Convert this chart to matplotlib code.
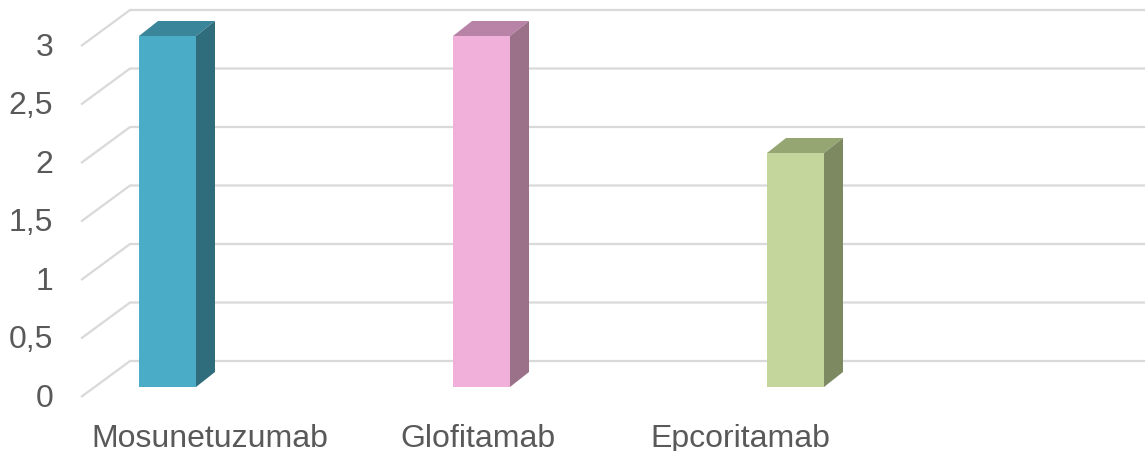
"""Excel-style 3D column chart: bispecific antibodies."""

import matplotlib

matplotlib.use("Agg")
import matplotlib.pyplot as plt
from matplotlib.patches import Polygon

categories = ["Mosunetuzumab", "Glofitamab", "Epcoritamab"]
values = [3, 3, 2]
y_ticks = [0, 0.5, 1, 1.5, 2, 2.5, 3]
tick_labels = ["0", "0,5", "1", "1,5", "2", "2,5", "3"]

front_colors = ["#4aacc6", "#f1b0da", "#c4d69b"]
top_colors = ["#3a8599", "#b883a7", "#95a672"]
side_colors = ["#2f6d7c", "#9a7189", "#7c8961"]

GRID = "#d9d9d9"
TEXT = "#595959"
DPI = 100
W, H = 1145, 452

# depth offsets in display pixels, measured from the bar front plane
TICK_PLANE = (-13.6, -10.0)
BACK_PLANE = (35.4, 26.0)
BAR_DEPTH = (19.0, 15.0)
WALL_LEFT = -0.232
WALL_RIGHT = 3.3
BAR_WIDTH = 0.1815
LABEL_SHIFT = [42.5, -3.5, -55.5]

plt.rcParams["font.family"] = ["Liberation Sans", "DejaVu Sans"]

fig = plt.figure(figsize=(W / DPI, H / DPI), dpi=DPI)
ax = fig.add_axes([0, 0, 1, 1])
ax.set_xlim(-167.5 / 314, (W - 167.5) / 314)
ax.set_ylim(-64 / 117, (H - 64) / 117)
ax.axis("off")


def shifted(x, y, off):
    """Data point moved by a pixel offset, returned in data coordinates."""
    px, py = ax.transData.transform((x, y))
    return ax.transData.inverted().transform((px + off[0], py + off[1]))


# back wall gridlines and the diagonal lines running to the front plane
for v in y_ticks:
    a = shifted(WALL_LEFT, v, TICK_PLANE)
    b = shifted(WALL_LEFT, v, BACK_PLANE)
    c = shifted(WALL_RIGHT, v, BACK_PLANE)
    ax.plot([a[0], b[0], c[0]], [a[1], b[1], c[1]], color=GRID, lw=1.6,
            solid_capstyle="butt", zorder=1)

for v, lab in zip(y_ticks, tick_labels):
    p = shifted(WALL_LEFT, v, (TICK_PLANE[0] - 28, TICK_PLANE[1] - 1))
    ax.text(p[0], p[1], lab, ha="right", va="center", fontsize=23, color=TEXT)

# bars: front face, top and right side
for i, v in enumerate(values):
    x0 = i - BAR_WIDTH / 2
    x1 = i + BAR_WIDTH / 2
    ax.bar(i, v, width=BAR_WIDTH, color=front_colors[i], linewidth=0, zorder=3)
    top = [(x0, v), (x1, v), shifted(x1, v, BAR_DEPTH), shifted(x0, v, BAR_DEPTH)]
    side = [(x1, 0), (x1, v), shifted(x1, v, BAR_DEPTH), shifted(x1, 0, BAR_DEPTH)]
    ax.add_patch(Polygon(top, closed=True, facecolor=top_colors[i], lw=0, zorder=3))
    ax.add_patch(Polygon(side, closed=True, facecolor=side_colors[i], lw=0, zorder=3))

# category labels
for i, name in enumerate(categories):
    p = shifted(i, 0, (LABEL_SHIFT[i], -59))
    ax.text(p[0], p[1], name, ha="center", va="baseline", fontsize=23, color=TEXT)

fig.savefig("out.png", dpi=DPI)
